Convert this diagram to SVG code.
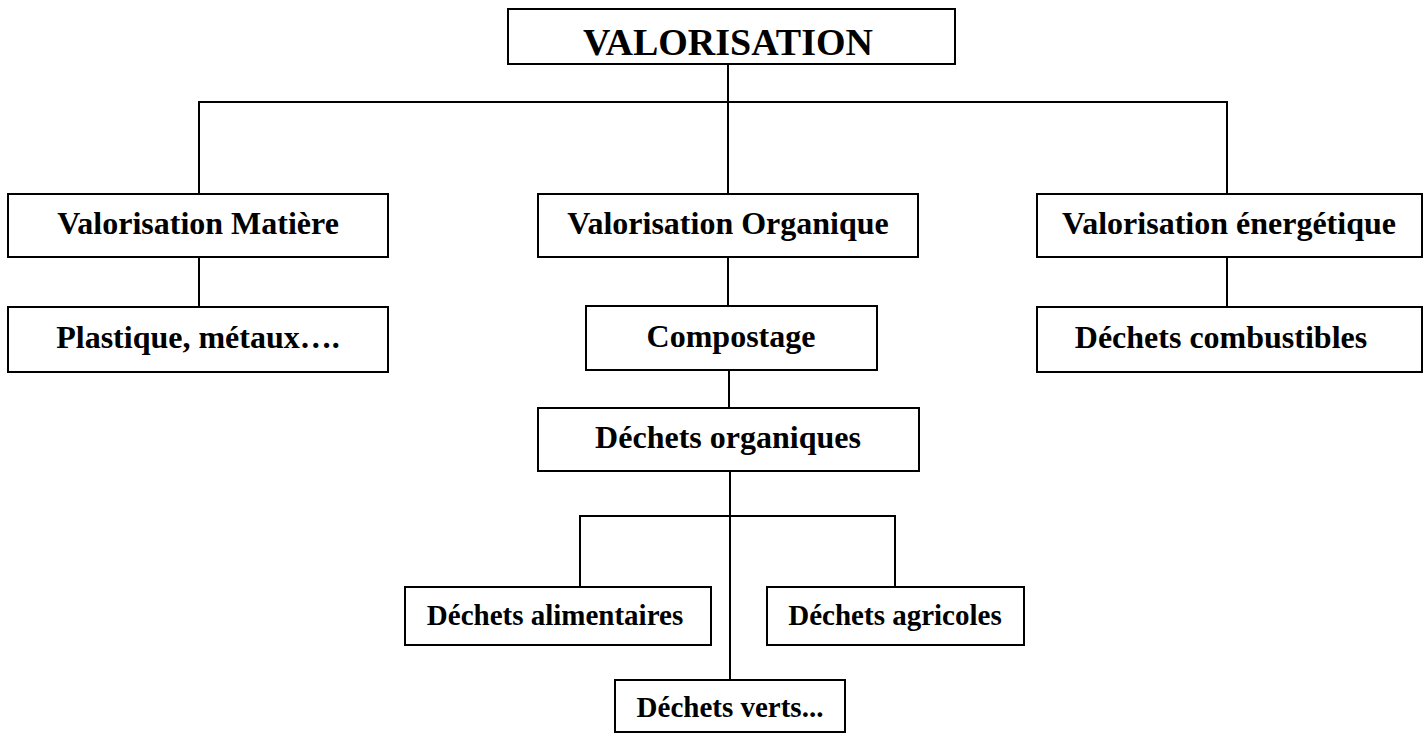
<svg xmlns="http://www.w3.org/2000/svg" width="1426" height="734" viewBox="0 0 1426 734">
  <style>
    .box { fill: #ffffff; stroke: #000000; stroke-width: 2; }
    .lbl { font-family: "Liberation Serif", "Times New Roman", serif; font-weight: bold; fill: #000000; text-anchor: middle; }
    .main { font-size: 32px; }
    .small { font-size: 29px; }
    .title { font-size: 38px; }
    .wire { fill: none; stroke: #000000; stroke-width: 2; }
  </style>
  <rect x="0" y="0" width="1426" height="734" fill="#ffffff"/>

  <!-- connectors -->
  <g id="connectors" class="wire">
    <path d="M728 64 V102"/>
    <path d="M199 194 V102 H1227 V194"/>
    <path d="M728 102 V194"/>
    <path d="M199 257 V307"/>
    <path d="M728 257 V306"/>
    <path d="M729 370 V408"/>
    <path d="M1227 257 V307"/>
    <path d="M730 471 V680"/>
    <path d="M580 587 V516 H895 V587"/>
  </g>

  <g id="valorisation">
    <rect class="box" x="508" y="9" width="447" height="55"/>
    <text class="lbl title" x="728" y="55">VALORISATION</text>
  </g>

  <g id="valorisation-matiere">
    <rect class="box" x="8" y="194" width="380" height="63"/>
    <text class="lbl main" x="198" y="234">Valorisation Matière</text>
  </g>

  <g id="plastique-metaux">
    <rect class="box" x="8" y="307" width="380" height="65"/>
    <text class="lbl main" x="198" y="348">Plastique, métaux….</text>
  </g>

  <g id="valorisation-organique">
    <rect class="box" x="538" y="194" width="380" height="63"/>
    <text class="lbl main" x="728" y="234">Valorisation Organique</text>
  </g>

  <g id="compostage">
    <rect class="box" x="586" y="306" width="291" height="64"/>
    <text class="lbl main" x="731" y="347">Compostage</text>
  </g>

  <g id="dechets-organiques">
    <rect class="box" x="538" y="408" width="381" height="63"/>
    <text class="lbl main" x="728" y="448">Déchets organiques</text>
  </g>

  <g id="valorisation-energetique">
    <rect class="box" x="1037" y="194" width="385" height="63"/>
    <text class="lbl main" x="1229" y="234">Valorisation énergétique</text>
  </g>

  <g id="dechets-combustibles">
    <rect class="box" x="1037" y="307" width="385" height="65"/>
    <text class="lbl main" x="1221" y="348">Déchets combustibles</text>
  </g>

  <g id="dechets-alimentaires">
    <rect class="box" x="405" y="587" width="306" height="58"/>
    <text class="lbl small" x="555" y="625">Déchets alimentaires</text>
  </g>

  <g id="dechets-agricoles">
    <rect class="box" x="767" y="587" width="257" height="58"/>
    <text class="lbl small" x="895" y="625">Déchets agricoles</text>
  </g>

  <g id="dechets-verts">
    <rect class="box" x="615" y="680" width="230" height="52"/>
    <text class="lbl small" x="730" y="717">Déchets verts...</text>
  </g>
</svg>
